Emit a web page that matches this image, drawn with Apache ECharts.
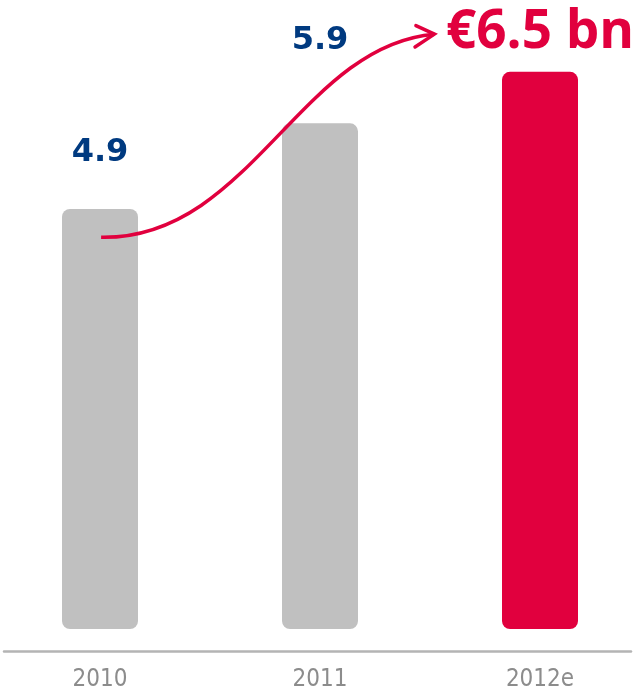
<!DOCTYPE html>
<html>
<head>
<meta charset="utf-8">
<script src="https://cdn.jsdelivr.net/npm/echarts@6/dist/echarts.min.js"></script>
<style>
  html, body { margin: 0; padding: 0; background: #ffffff; }
  #chart { width: 636px; height: 695px; }
</style>
</head>
<body>
<div id="chart"></div>
<script>
// Revenue by year, € billions
const years = ['2010', '2011', '2012e'];
const revenue = [4.9, 5.9, 6.5];
const barColors = ['#c0c0c0', '#c0c0c0', '#e1003e'];

// Growth arrow path in (year index, € bn) space: start, two control points, tip
const arrowPath = [[0.005, 4.57], [0.68, 4.54], [0.91, 6.81], [1.52, 6.94]];
const arrowWings = [[1.436, 7.04], [1.432, 6.79]];

const NAVY = '#003a80';
const RED = '#e1003e';

const chart = echarts.init(document.getElementById('chart'), null, { renderer: 'canvas' });

const labelStyles = [
  { distance: 40, fontSize: 32, fontFamily: 'DejaVu Sans', color: NAVY, fmt: v => String(v) },
  { distance: 67, fontSize: 32, fontFamily: 'DejaVu Sans', color: NAVY, fmt: v => String(v) },
  { distance: 12, fontSize: 53, fontFamily: 'Open Sans', color: RED, fmt: v => '€' + v + ' bn' }
];

const barData = revenue.map((v, i) => ({
  value: v,
  itemStyle: { color: barColors[i], borderRadius: 8 },
  label: {
    show: true,
    position: 'top',
    distance: labelStyles[i].distance,
    fontSize: labelStyles[i].fontSize,
    fontFamily: labelStyles[i].fontFamily,
    fontWeight: 'bold',
    color: labelStyles[i].color,
    formatter: p => labelStyles[i].fmt(p.value)
  }
}));

chart.setOption({
  animation: false,
  backgroundColor: '#ffffff',
  grid: [
    { left: -10, right: -14, top: 29, bottom: 66, outerBoundsMode: 'none', containLabel: false },
    { left: 4, right: 5, top: 29, bottom: 44, outerBoundsMode: 'none', containLabel: false }
  ],
  xAxis: [
    {
      type: 'category', gridIndex: 0, data: years, offset: 22,
      axisLine: { show: false }, axisTick: { show: false },
      axisLabel: {
        color: '#8c8c8c', fontSize: 24,
        fontFamily: "'DejaVu Sans Condensed', 'DejaVu Sans', sans-serif",
        margin: 17
      }
    },
    {
      type: 'value', gridIndex: 0, min: -0.5, max: 2.5, show: false
    },
    {
      type: 'category', gridIndex: 1, data: [''],
      axisLine: { show: true, lineStyle: { color: '#b4b4b4', width: 2.5 } },
      axisTick: { show: false }, axisLabel: { show: false }
    }
  ],
  yAxis: [
    { type: 'value', gridIndex: 0, min: 0, max: 7, show: false },
    { type: 'value', gridIndex: 1, min: 0, max: 1, show: false }
  ],
  series: [{
    type: 'bar',
    xAxisIndex: 0,
    yAxisIndex: 0,
    barWidth: 76,
    data: barData
  }]
});

// Growth arrow, placed through the chart's own coordinate conversion
const toPx = p => chart.convertToPixel({ xAxisIndex: 1, yAxisIndex: 0 }, p);
const c = arrowPath.map(toPx);
const w = arrowWings.map(toPx);

chart.setOption({
  graphic: [
    {
      type: 'bezierCurve',
      shape: {
        x1: c[0][0], y1: c[0][1],
        cpx1: c[1][0], cpy1: c[1][1],
        cpx2: c[2][0], cpy2: c[2][1],
        x2: c[3][0], y2: c[3][1]
      },
      style: { stroke: RED, lineWidth: 3.5, fill: null },
      z: 10
    },
    {
      type: 'polyline',
      shape: { points: [w[0], c[3], w[1]] },
      style: { stroke: RED, lineWidth: 3.5, fill: null, lineJoin: 'miter', lineCap: 'round' },
      z: 10
    }
  ]
});
</script>
</body>
</html>
